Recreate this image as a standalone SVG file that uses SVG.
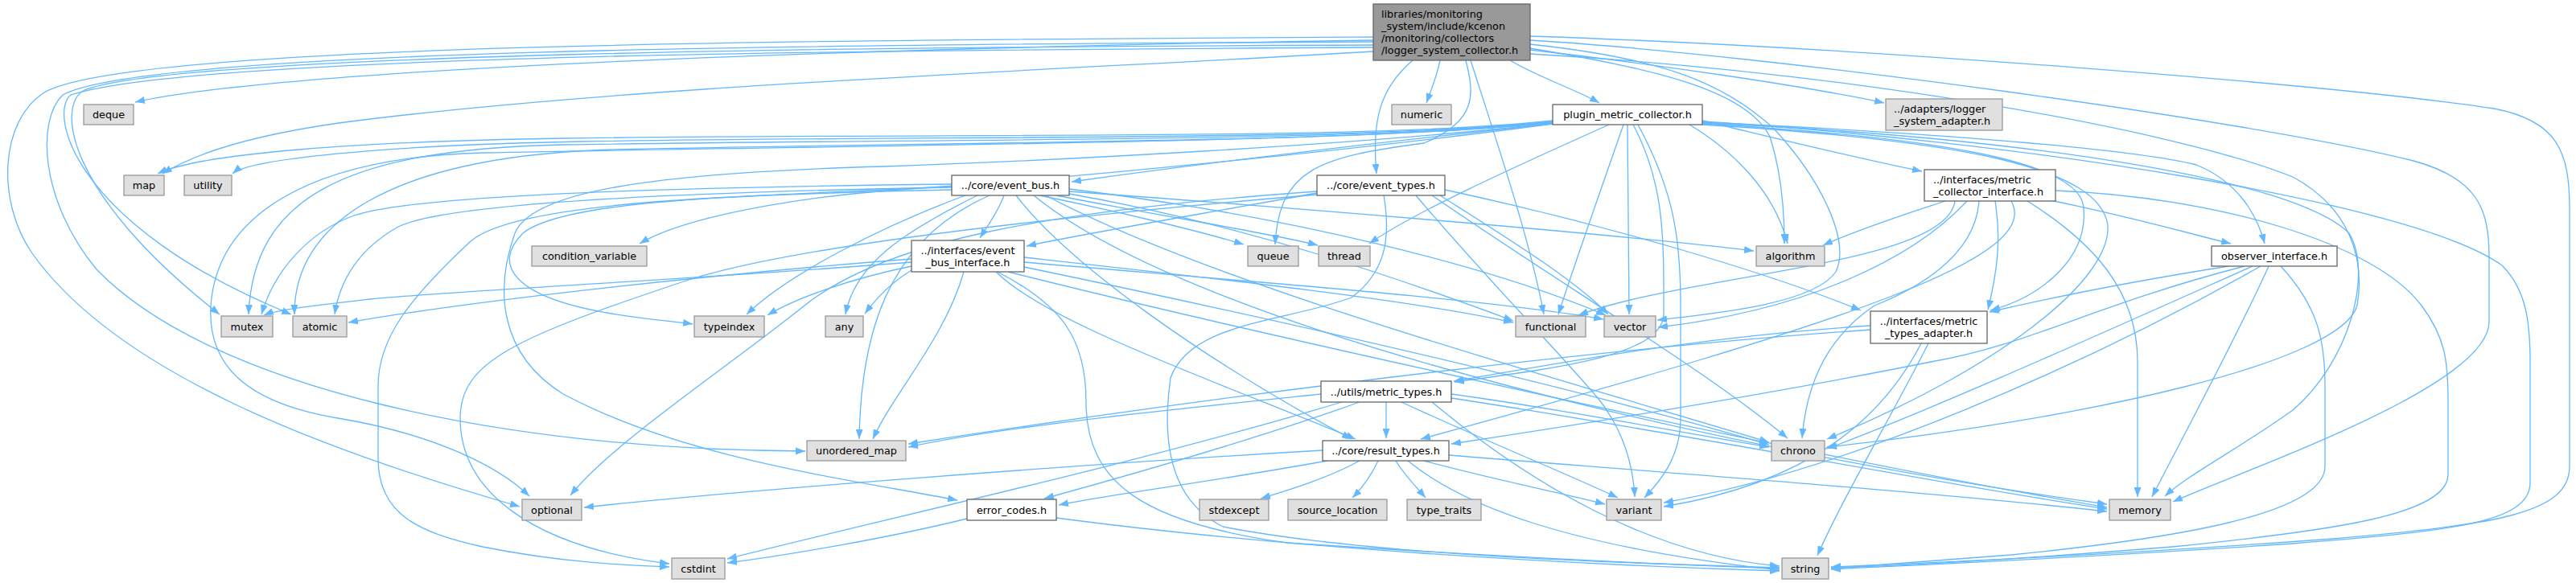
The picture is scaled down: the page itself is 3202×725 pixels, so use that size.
<svg xmlns="http://www.w3.org/2000/svg" width="3202" height="725" viewBox="0 0 3202 725">
<defs>
<marker id="ah" markerWidth="12" markerHeight="9" refX="12" refY="4.5" orient="auto" markerUnits="userSpaceOnUse"><path d="M0,0 L12,4.5 L0,9 z" fill="#63b8ff"/></marker>
</defs>
<style>
.e path{fill:none;stroke:#63b8ff;stroke-width:1.3;marker-end:url(#ah)}
.w{fill:#ffffff;stroke:#666666;stroke-width:1.3}
.s{fill:#e0e0e0;stroke:#999999;stroke-width:1.3}
.m{fill:#999999;stroke:#666666;stroke-width:1.3}
text{font-family:"DejaVu Sans","Liberation Sans",sans-serif;font-size:12.8px;fill:#000000}
.c{text-anchor:middle}
</style>
<rect x="0" y="0" width="3202" height="725" fill="#ffffff"/>
<g id="edges" class="e">
<path d="M1790,75 C1786,95 1779,112 1773,128"/>
<path d="M1877,75 C1910,95 1960,112 1988,128"/>
<path d="M1756,75 C1715,110 1705,150 1711,216"/>
<path d="M1822,75 C1832,115 1838,150 1770,178 C1640,195 1590,210 1585,304"/>
<path d="M1828,75 C1865,190 1902,300 1919,391"/>
<path d="M1707,50 C1200,58 380,80 168,127"/>
<path d="M1707,64 C1300,88 760,108 421,153 C330,166 250,186 202,216"/>
<path d="M1707,56 C1100,58 220,66 105,112 C70,130 80,240 273,391"/>
<path d="M1707,59 C1100,62 240,68 88,118 C60,140 90,280 362,391"/>
<path d="M1707,46 C1000,50 160,54 55,115 C0,150 -5,250 40,315 C150,470 420,565 646,630"/>
<path d="M1707,52 C1000,55 180,62 78,118 C45,150 50,250 120,335 C260,480 620,560 1001,561"/>
<path d="M1902,62 C2060,80 2250,108 2342,128"/>
<path d="M1902,60 C2050,85 2170,110 2200,170 C2213,210 2218,260 2218,303"/>
<path d="M1902,55 C2060,72 2140,100 2205,160 C2265,225 2300,300 2282,338 C2255,378 2130,390 2060,398"/>
<path d="M1902,45 C2300,58 2900,105 3100,135 C3180,150 3194,190 3194,260 L3194,580 C3194,640 3100,652 2900,670 C2600,692 2350,702 2276,705"/>
<path d="M1902,50 C2200,68 2800,150 3000,200 C3080,222 3094,260 3094,320 L3094,400 C3094,480 2800,580 2701,624"/>
<path d="M1902,67 C2300,90 2700,160 2850,220 C2920,258 2940,320 2930,380 C2910,450 2600,520 2271,556"/>
<path d="M1930,154 C1760,172 1520,200 1332,226"/>
<path d="M1930,150 C1700,175 1200,165 700,172 C450,176 250,190 196,216"/>
<path d="M1930,151 C1700,176 1200,168 720,176 C470,181 310,198 289,216"/>
<path d="M1930,151 C1700,177 1200,172 700,180 C420,186 315,250 309,391"/>
<path d="M1930,152 C1700,178 1200,176 760,186 C480,195 365,280 366,391"/>
<path d="M1930,152 C1700,178 1100,180 600,190 C380,196 270,270 262,380 C258,450 300,500 420,520 C540,540 620,580 658,617"/>
<path d="M1930,153 C1700,180 1300,200 1100,207 C800,215 660,240 640,290 C615,360 620,440 700,490 C850,570 1050,595 1190,622"/>
<path d="M1930,154 C1700,185 1300,225 1120,235 C900,245 700,250 650,290 C610,330 640,370 760,390 C810,398 840,400 861,403"/>
<path d="M2000,155 C1900,200 1760,262 1702,303"/>
<path d="M2018,155 C1992,230 1960,320 1937,391"/>
<path d="M2023,155 C2024,240 2025,320 2025,391"/>
<path d="M2100,155 C2150,185 2205,235 2222,303"/>
<path d="M2116,150 C2200,170 2300,195 2389,213"/>
<path d="M2116,152 C2400,165 2650,185 2730,205 C2780,225 2805,265 2815,303"/>
<path d="M2116,154 C2400,170 2590,200 2590,260 C2595,320 2540,368 2474,386"/>
<path d="M2116,155 C2450,175 2610,210 2620,280 C2625,350 2480,460 2271,546"/>
<path d="M2116,153 C2500,170 2850,220 2920,290 C2950,340 2920,450 2850,510 C2780,560 2720,590 2691,617"/>
<path d="M2116,151 C2500,175 3000,250 3110,330 C3140,360 3145,400 3145,450 L3145,600 C3145,650 3050,660 2850,676 C2550,696 2350,704 2276,708"/>
<path d="M2030,155 C2070,230 2068,300 2068,390 C2068,440 1950,456 1808,475"/>
<path d="M2036,155 C2082,240 2089,300 2089,380 L2089,520 C2089,570 2062,600 2044,619"/>
<path d="M1248,243 C1240,265 1228,280 1218,296"/>
<path d="M1292,243 C1400,265 1500,290 1546,304"/>
<path d="M1313,243 C1450,270 1580,290 1638,305"/>
<path d="M1329,238 C1600,258 2000,290 2180,312"/>
<path d="M1183,232 C1000,240 850,270 795,303"/>
<path d="M1200,243 C1100,280 980,340 928,391"/>
<path d="M1215,243 C1120,290 1062,330 1051,391"/>
<path d="M1183,229 C900,232 520,240 440,268 C380,290 340,340 325,391"/>
<path d="M1183,233 C900,238 560,250 495,282 C445,310 422,350 416,391"/>
<path d="M1183,236 C900,242 640,252 585,300 C510,370 470,420 470,480 L470,570 C470,640 520,662 600,680 C700,700 780,703 832,705"/>
<path d="M1329,241 C1550,280 1750,350 1881,399"/>
<path d="M1329,235 C1600,268 1850,330 1996,392"/>
<path d="M1300,243 C1500,350 1900,460 2199,550"/>
<path d="M1285,243 C1500,420 2200,570 2619,627"/>
<path d="M1230,243 C1100,300 1070,420 1068,546"/>
<path d="M1263,243 C1330,330 1500,450 1680,546"/>
<path d="M1133,331 C1060,346 990,370 954,392"/>
<path d="M1133,336 C1110,350 1090,370 1075,390"/>
<path d="M1133,322 C900,340 600,372 433,401"/>
<path d="M1133,326 C900,345 560,362 460,372 C390,380 345,385 328,392"/>
<path d="M1198,338 C1175,420 1110,490 1085,546"/>
<path d="M1238,338 C1300,400 1500,470 1685,546"/>
<path d="M1273,320 C1500,345 1750,372 1881,401"/>
<path d="M1273,326 C1550,350 1850,372 1993,397"/>
<path d="M1273,332 C1600,400 1950,480 2199,553"/>
<path d="M1253,338 C1500,400 2200,560 2619,631"/>
<path d="M1240,338 C1320,380 1350,420 1350,500 C1350,600 1420,650 1600,675 C1900,695 2100,703 2212,707"/>
<path d="M1637,240 C1500,265 1350,290 1276,306"/>
<path d="M1796,236 C2000,280 2200,340 2313,386"/>
<path d="M1637,238 C1300,262 1100,300 1000,380 C900,460 760,552 709,616"/>
<path d="M1637,242 C1400,262 1000,300 850,350 C640,420 572,450 572,520 C572,610 660,680 832,701"/>
<path d="M1780,243 C1950,360 2120,460 2222,545"/>
<path d="M1720,243 C1730,300 1720,340 1680,370 C1600,400 1480,400 1455,470 C1445,540 1450,620 1520,655 C1700,690 2000,700 2212,706"/>
<path d="M1760,243 C1850,350 1950,450 1990,500 C2020,540 2030,580 2032,618"/>
<path d="M1790,243 C1880,300 1960,350 1999,391"/>
<path d="M2325,405 C2100,420 1950,450 1807,474"/>
<path d="M2325,410 C1900,440 1400,510 1129,552"/>
<path d="M2397,427 C2350,520 2290,620 2259,691"/>
<path d="M2388,427 C2340,520 2250,600 2068,630"/>
<path d="M1723,500 L1723,545"/>
<path d="M1690,500 C1550,550 1400,592 1298,620"/>
<path d="M1642,490 C1450,510 1250,530 1129,556"/>
<path d="M1668,500 C1400,580 1100,645 904,695"/>
<path d="M1742,500 C1850,550 1950,590 2011,619"/>
<path d="M1804,490 C1950,510 2100,540 2199,556"/>
<path d="M1780,500 C1900,600 2050,690 2212,704"/>
<path d="M1804,495 C2100,540 2400,600 2619,633"/>
<path d="M1650,573 C1500,600 1380,615 1316,628"/>
<path d="M1644,560 C1300,580 900,612 726,631"/>
<path d="M1690,573 C1650,595 1600,610 1567,620"/>
<path d="M1713,573 C1705,590 1695,605 1681,619"/>
<path d="M1735,573 C1745,590 1760,605 1772,619"/>
<path d="M1770,573 C1850,595 1950,615 1995,627"/>
<path d="M1801,566 C2100,590 2400,612 2619,636"/>
<path d="M1750,573 C1820,630 1950,680 2212,709"/>
<path d="M1202,645 C1100,670 980,690 904,700"/>
<path d="M1313,644 C1600,682 1950,702 2212,710"/>
<path d="M2770,331 C2650,350 2550,370 2473,388"/>
<path d="M2790,331 C2600,380 2520,430 2400,450 C2200,490 1950,530 1804,552"/>
<path d="M2800,331 C2600,420 2400,510 2271,558"/>
<path d="M2810,331 C2600,450 2300,585 2068,625"/>
<path d="M2820,331 C2780,420 2720,530 2675,618"/>
<path d="M2835,331 C2880,380 2890,420 2890,480 L2890,580 C2890,640 2700,670 2500,690 C2350,702 2300,705 2276,707"/>
<path d="M2418,250 C2350,272 2300,290 2266,305"/>
<path d="M2445,250 C2380,320 2250,385 2061,407"/>
<path d="M2430,250 C2420,330 2100,340 1962,392"/>
<path d="M2460,250 C2455,320 2380,360 2330,380 C2270,420 2245,480 2240,545"/>
<path d="M2480,250 C2488,300 2482,340 2471,385"/>
<path d="M2500,250 C2540,320 2300,400 1766,546"/>
<path d="M2520,250 C2600,300 2657,360 2657,450 L2657,618"/>
<path d="M2555,237 C2750,245 2950,300 3010,380 C3040,420 3043,450 3043,500 L3043,590 C3043,640 2900,660 2700,680 C2450,700 2320,705 2276,706"/>
<path d="M2553,250 C2650,270 2720,290 2773,303"/>
</g>
<g id="node-main"><rect class="m" x="1707" y="5" width="195" height="70"/><text x="1717" y="22">libraries/monitoring</text><text x="1717" y="37">_system/include/kcenon</text><text x="1717" y="52">/monitoring/collectors</text><text x="1717" y="67">/logger_system_collector.h</text></g>
<g id="node-deque"><rect class="s" x="104" y="130" width="62" height="25"/><text class="c" x="135" y="147">deque</text></g>
<g id="node-numeric"><rect class="s" x="1730" y="130" width="74" height="25"/><text class="c" x="1767" y="147">numeric</text></g>
<g id="node-plugin"><rect class="w" x="1930" y="130" width="186" height="25"/><text class="c" x="2023" y="147">plugin_metric_collector.h</text></g>
<g id="node-adapter"><rect class="s" x="2344" y="123" width="145" height="39"/><text x="2354" y="139.5">../adapters/logger</text><text x="2354" y="154.5">_system_adapter.h</text></g>
<g id="node-map"><rect class="s" x="154" y="218" width="50" height="25"/><text class="c" x="179" y="235">map</text></g>
<g id="node-utility"><rect class="s" x="229" y="218" width="59" height="25"/><text class="c" x="258.5" y="235">utility</text></g>
<g id="node-event_bus"><rect class="w" x="1183" y="218" width="146" height="25"/><text class="c" x="1256" y="235">../core/event_bus.h</text></g>
<g id="node-event_types"><rect class="w" x="1637" y="218" width="159" height="25"/><text class="c" x="1716.5" y="235">../core/event_types.h</text></g>
<g id="node-mci"><rect class="w" x="2392" y="211" width="163" height="39"/><text x="2403" y="227.5">../interfaces/metric</text><text x="2403" y="242.5">_collector_interface.h</text></g>
<g id="node-condition_variable"><rect class="s" x="661" y="306" width="143" height="25"/><text class="c" x="732.5" y="323">condition_variable</text></g>
<g id="node-ebi"><rect class="w" x="1133" y="299" width="140" height="39"/><text class="c" x="1203" y="315.5">../interfaces/event</text><text class="c" x="1203" y="330.5">_bus_interface.h</text></g>
<g id="node-queue"><rect class="s" x="1551" y="306" width="63" height="25"/><text class="c" x="1582.5" y="323">queue</text></g>
<g id="node-thread"><rect class="s" x="1639" y="306" width="64" height="25"/><text class="c" x="1671" y="323">thread</text></g>
<g id="node-algorithm"><rect class="s" x="2183" y="306" width="85" height="25"/><text class="c" x="2225.5" y="323">algorithm</text></g>
<g id="node-observer"><rect class="w" x="2749" y="306" width="156" height="25"/><text class="c" x="2827" y="323">observer_interface.h</text></g>
<g id="node-mutex"><rect class="s" x="275" y="393" width="64" height="26"/><text class="c" x="307" y="410.5">mutex</text></g>
<g id="node-atomic"><rect class="s" x="364" y="393" width="67" height="26"/><text class="c" x="397.5" y="410.5">atomic</text></g>
<g id="node-typeindex"><rect class="s" x="863" y="393" width="87" height="26"/><text class="c" x="906.5" y="410.5">typeindex</text></g>
<g id="node-any"><rect class="s" x="1026" y="393" width="47" height="26"/><text class="c" x="1049.5" y="410.5">any</text></g>
<g id="node-functional"><rect class="s" x="1884" y="393" width="87" height="26"/><text class="c" x="1927.5" y="410.5">functional</text></g>
<g id="node-vector"><rect class="s" x="1994" y="393" width="64" height="26"/><text class="c" x="2026" y="410.5">vector</text></g>
<g id="node-mta"><rect class="w" x="2325" y="387" width="145" height="40"/><text class="c" x="2397.5" y="404">../interfaces/metric</text><text class="c" x="2397.5" y="419">_types_adapter.h</text></g>
<g id="node-metric_types"><rect class="w" x="1642" y="474" width="162" height="26"/><text class="c" x="1723" y="491.5">../utils/metric_types.h</text></g>
<g id="node-unordered_map"><rect class="s" x="1003" y="548" width="123" height="25"/><text class="c" x="1064.5" y="565">unordered_map</text></g>
<g id="node-result_types"><rect class="w" x="1644" y="548" width="157" height="25"/><text class="c" x="1722.5" y="565">../core/result_types.h</text></g>
<g id="node-chrono"><rect class="s" x="2202" y="548" width="66" height="25"/><text class="c" x="2235" y="565">chrono</text></g>
<g id="node-optional"><rect class="s" x="649" y="621" width="74" height="26"/><text class="c" x="686" y="638.5">optional</text></g>
<g id="node-error_codes"><rect class="w" x="1202" y="621" width="111" height="26"/><text class="c" x="1257.5" y="638.5">error_codes.h</text></g>
<g id="node-stdexcept"><rect class="s" x="1491" y="621" width="86" height="26"/><text class="c" x="1534" y="638.5">stdexcept</text></g>
<g id="node-source_location"><rect class="s" x="1601" y="621" width="123" height="26"/><text class="c" x="1662.5" y="638.5">source_location</text></g>
<g id="node-type_traits"><rect class="s" x="1749" y="621" width="92" height="26"/><text class="c" x="1795" y="638.5">type_traits</text></g>
<g id="node-variant"><rect class="s" x="1997" y="621" width="68" height="26"/><text class="c" x="2031" y="638.5">variant</text></g>
<g id="node-memory"><rect class="s" x="2622" y="621" width="76" height="26"/><text class="c" x="2660" y="638.5">memory</text></g>
<g id="node-cstdint"><rect class="s" x="835" y="694" width="66" height="26"/><text class="c" x="868" y="711.5">cstdint</text></g>
<g id="node-string"><rect class="s" x="2215" y="694" width="58" height="26"/><text class="c" x="2244" y="711.5">string</text></g>
</svg>
